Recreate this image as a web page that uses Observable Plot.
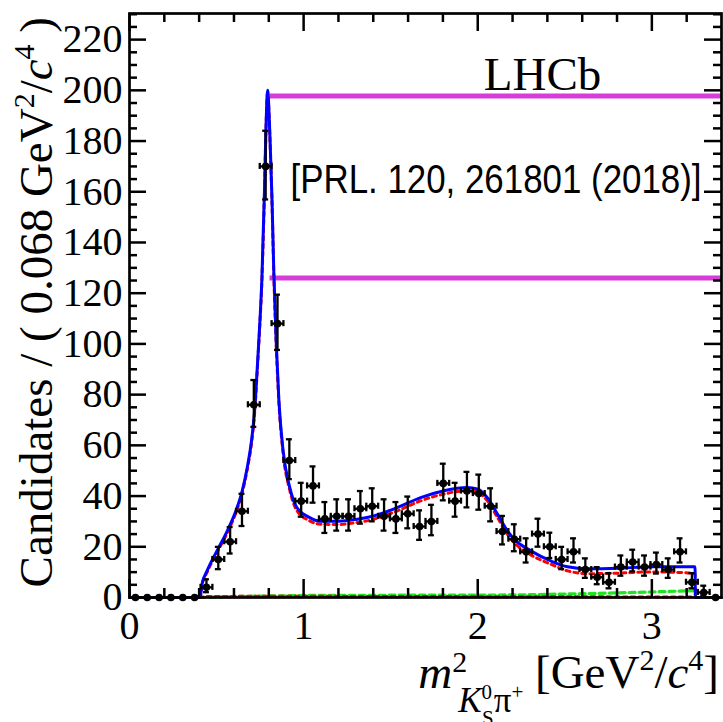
<!DOCTYPE html>
<html><head><meta charset="utf-8">
<script src="https://cdn.jsdelivr.net/npm/d3@7"></script>
<script src="https://cdn.jsdelivr.net/npm/@observablehq/plot@0.6"></script>
<style>body{margin:0;background:#fff} #chart svg{display:block}</style>
</head><body><div id="chart"></div>
<script>
// ---- data ----
const binWidth = 0.068;
const counts = [0,0,0,0,0,0,4,15,22,34,76,170,108,54,38,44,31,32,32,35,36,32,31,33,28,30,45,38,42,41,36,26,23,18,25,20,15,18,11,8,6,12,14,12,13,11,18,6,2,0];

const totalX = [0,0.400,0.408,0.417,0.446,0.503,0.561,0.618,0.647,0.676,0.701,0.720,0.735,0.749,0.760,0.775,0.785,0.793,0.806,0.818,0.829,0.843,0.858,0.882,0.920,0.960,1.030,1.097,1.200,1.300,1.404,1.539,1.672,1.806,1.940,1.998,2.055,2.113,2.170,2.225,2.305,2.420,2.516,2.630,2.803,2.994,3.150,3.248,3.250,3.400];
const totalY = [0,0,1,5.4,10.6,18.5,26.2,35.5,42,51.2,61.9,75,92,109,125,160,188,200,183,158,128,100,77.7,58,43.5,35.6,31.7,30.1,30.1,30.8,32.2,35.5,39.4,42.1,43.4,42.8,39.4,32.9,26.3,22,18.4,14.4,12.1,11.3,11.5,12.1,12.1,12.1,0,0];

const signalX = [0.400,0.408,0.417,0.446,0.503,0.561,0.618,0.647,0.676,0.701,0.720,0.735,0.749,0.760,0.775,0.785,0.793,0.806,0.818,0.829,0.843,0.858,0.882,0.920,0.960,1.030,1.097,1.200,1.300,1.404,1.539,1.672,1.806,1.940,1.998,2.055,2.113,2.170,2.225,2.305,2.420,2.516,2.630,2.803,2.994,3.150,3.248,3.250];
const signalY = [0,0.8,5,10,17.8,25.4,34.7,41.2,50.4,61,74,91,108,124,159,187,199,182,157,127,99,77,57,42.4,34.4,30.4,28.9,28.8,29.5,30.9,34.2,38.1,40.8,42.1,41.5,38.1,31.6,25,20.6,16.8,13.1,10.5,9.4,9.6,10.1,9.9,9.4,0];

const smallX = [0.400,0.450,0.800,1.500,2.200,3.248,3.250];
const smallY = [0,0.4,0.5,0.4,0.3,0.2,0];

const bkgX = [0.400,0.600,1.000,1.500,2.000,2.300,2.600,2.900,3.200,3.248,3.250];
const bkgY = [0,0.4,0.8,0.9,0.9,1.1,1.5,2.0,2.6,2.7,0];

const legendLineY = [197.8, 126];
const xMajorTicks = [0,1,2,3];
const xMinorTicks = [0.2,0.4,0.6,0.8,1.2,1.4,1.6,1.8,2.2,2.4,2.6,2.8,3.2];
const yMajorTicks = [0,20,40,60,80,100,120,140,160,180,200,220];
const yMinorTicks = [5,10,15,25,30,35,45,50,55,65,70,75,85,90,95,105,110,115,125,130,135,145,150,155,165,170,175,185,190,195,205,210,215,225,230];

// ---- tables ----
function poissonErr(n){
  if (n === 0) return [0, 0];
  const up = n + Math.sqrt(n + 0.75) + 1;
  const lo = n * Math.pow(1 - 1/(9*n) - 1/(3*Math.sqrt(n)), 3);
  return [lo, up];
}
const pts = counts.map((n,i) => {
  const [lo, hi] = poissonErr(n);
  return {x: binWidth*(i+0.5), n, lo, hi, x1: binWidth*i, x2: binWidth*(i+1)};
});
const ptsNZ = pts.filter(d => d.n > 0);
const toXY = (X, Y) => X.map((x,i) => ({x, y: Y[i]}));
const total = toXY(totalX, totalY);
const signal = toXY(signalX, signalY);
const small = toXY(smallX, smallY);
const bkg = toXY(bkgX, bkgY);

// ---- layout ----
const W = 723, H = 722, mt = 13, mr = 2, mb = 125, ml = 129;
const PW = W - ml - mr, PH = H - mt - mb;
const serif = "'Liberation Serif','Times New Roman',serif";
const sans = "'Liberation Sans',Arial,sans-serif";
const magenta = "#d83cd8";
const capX = 0.017, capY = 1.2;

const chart = Plot.plot({
  width: W, height: H,
  marginTop: mt, marginRight: mr, marginBottom: mb, marginLeft: ml,
  x: {domain: [0, 3.4], label: null},
  y: {domain: [0, 230.3], label: null},
  style: {background: "white", color: "black", fontFamily: serif},
  marks: [
    Plot.ruleY(legendLineY, {y: d => d, x1: 0.807, x2: 3.4, stroke: magenta, strokeWidth: 5}),
    Plot.line(bkg, {x: "x", y: "y", stroke: "#1ee61e", strokeWidth: 3.2, strokeDasharray: "6,4"}),
    Plot.line(small, {x: "x", y: "y", stroke: "#ff0000", strokeWidth: 3, strokeDasharray: "4,4"}),
    Plot.line(signal, {x: "x", y: "y", stroke: "#ff0000", strokeWidth: 3, strokeDasharray: "4,4", curve: "monotone-x"}),
    Plot.line(total, {x: "x", y: "y", stroke: "#0000ff", strokeWidth: 3, curve: "monotone-x"}),
    // error bars
    Plot.ruleY(pts, {y: "n", x1: "x1", x2: "x2", stroke: "black", strokeWidth: 2.3}),
    Plot.ruleX(ptsNZ, {x: "x1", y1: d => d.n - capY, y2: d => d.n + capY, stroke: "black", strokeWidth: 2.3}),
    Plot.ruleX(ptsNZ, {x: "x2", y1: d => d.n - capY, y2: d => d.n + capY, stroke: "black", strokeWidth: 2.3}),
    Plot.ruleX(ptsNZ, {x: "x", y1: "lo", y2: "hi", stroke: "black", strokeWidth: 2.3}),
    Plot.ruleY(ptsNZ, {y: "lo", x1: d => d.x - capX, x2: d => d.x + capX, stroke: "black", strokeWidth: 2.3}),
    Plot.ruleY(ptsNZ, {y: "hi", x1: d => d.x - capX, x2: d => d.x + capX, stroke: "black", strokeWidth: 2.3}),
    Plot.dot(pts, {x: "x", y: "n", r: 3.8, fill: "black", stroke: "none"}),
    // ROOT-style inward ticks on all four sides
    Plot.tickX(xMajorTicks, {x: d => d, insetTop: PH - 18, stroke: "black", strokeWidth: 2.5}),
    Plot.tickX(xMinorTicks, {x: d => d, insetTop: PH - 9, stroke: "black", strokeWidth: 2.5}),
    Plot.tickX(xMajorTicks, {x: d => d, insetBottom: PH - 18, stroke: "black", strokeWidth: 2.5}),
    Plot.tickX(xMinorTicks, {x: d => d, insetBottom: PH - 9, stroke: "black", strokeWidth: 2.5}),
    Plot.tickY(yMajorTicks, {y: d => d, insetRight: PW - 17, stroke: "black", strokeWidth: 2.5}),
    Plot.tickY(yMinorTicks, {y: d => d, insetRight: PW - 8, stroke: "black", strokeWidth: 2.5}),
    Plot.tickY(yMajorTicks, {y: d => d, insetLeft: PW - 17, stroke: "black", strokeWidth: 2.5}),
    Plot.tickY(yMinorTicks, {y: d => d, insetLeft: PW - 8, stroke: "black", strokeWidth: 2.5}),
    Plot.frame({stroke: "black", strokeWidth: 2.7}),
    Plot.axisX(xMajorTicks, {tickSize: 0, tickPadding: 13, fontSize: 40, fontFamily: serif, label: null, tickFormat: d => String(d)}),
    Plot.axisY(yMajorTicks, {tickSize: 0, tickPadding: 7, fontSize: 40, fontFamily: serif, label: null, tickFormat: d => String(d)}),
    Plot.text(["LHCb"], {x: 2.372, y: 206.2, text: d => d, fontSize: 47, fontFamily: serif, fill: "black"}),
    Plot.text(["[PRL. 120, 261801 (2018)]"], {x: 2.105, y: 164.4, text: d => d, fontSize: 40, fontFamily: sans, fill: "black"})
  ]
});
document.getElementById("chart").appendChild(chart);

const svg = d3.select(chart);
svg.selectAll("text").filter(function(){ return this.textContent.startsWith("[PRL"); })
  .attr("textLength", 411).attr("lengthAdjust", "spacingAndGlyphs");

// y-axis title
const yl = svg.append("text")
  .attr("transform", "translate(52,17) rotate(-90)")
  .attr("text-anchor", "end").attr("font-family", serif).attr("font-size", 47).attr("fill", "black");
yl.append("tspan").text("Candidates / ( 0.068 GeV");
yl.append("tspan").attr("font-size", 30).attr("dy", -18).text("2");
yl.append("tspan").attr("dy", 18).text("/");
yl.append("tspan").attr("font-style", "italic").text("c");
yl.append("tspan").attr("font-size", 30).attr("dy", -18).text("4");
yl.append("tspan").attr("dy", 18).text("\u00a0)");

// x-axis title
const xl = svg.append("text")
  .attr("x", 719).attr("y", 688)
  .attr("text-anchor", "end").attr("font-family", serif).attr("font-size", 47).attr("fill", "black");
xl.append("tspan").attr("font-style", "italic").text("m");
xl.append("tspan").attr("font-size", 30).attr("dy", -16).text("2");
xl.append("tspan").attr("font-size", 35).attr("font-style", "italic").attr("dx", -9).attr("dy", 40).text("K");
xl.append("tspan").attr("font-size", 21).attr("dy", -13).text("0");
xl.append("tspan").attr("font-size", 21).attr("dx", -10).attr("dy", 26).text("S");
xl.append("tspan").attr("font-size", 35).attr("dy", -13).text("π");
xl.append("tspan").attr("font-size", 21).attr("dy", -13).text("+");
xl.append("tspan").attr("dy", -11).text("\u00a0[GeV");
xl.append("tspan").attr("font-size", 30).attr("dy", -18).text("2");
xl.append("tspan").attr("dy", 18).text("/");
xl.append("tspan").attr("font-style", "italic").text("c");
xl.append("tspan").attr("font-size", 30).attr("dy", -18).text("4");
xl.append("tspan").attr("dy", 18).text("]");
</script>
</body></html>
